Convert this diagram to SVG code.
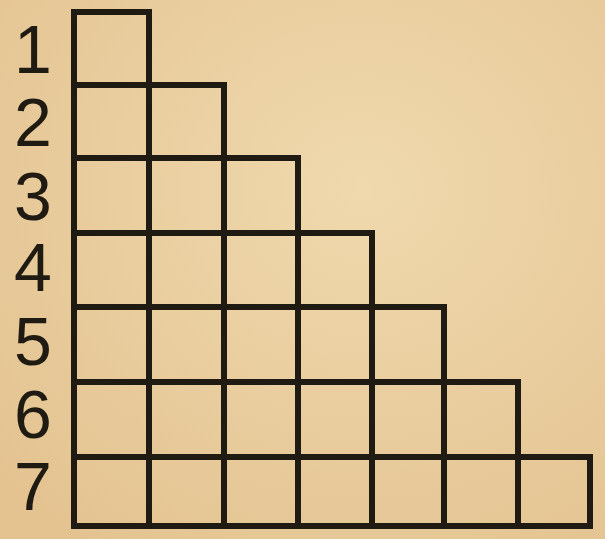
<svg xmlns="http://www.w3.org/2000/svg" width="605" height="539" viewBox="0 0 605 539">
<style>
.g{fill:none;stroke:#1f1a12;stroke-width:6;stroke-linejoin:miter;stroke-linecap:square}
.n{font-family:"Liberation Sans",Arial,sans-serif;font-size:68px;fill:#1f1a12;text-anchor:middle}
</style>
<defs>
<radialGradient id="bg" cx="0.6" cy="0.35" r="0.8">
<stop offset="0" stop-color="#efd9ad"/>
<stop offset="1" stop-color="#e4c391"/>
</radialGradient>
</defs>
<rect width="605" height="539" fill="url(#bg)"/>
<g id="labels">
<text class="n" x="33" y="73">1</text>
<text class="n" x="33" y="146">2</text>
<text class="n" x="33" y="220">3</text>
<text class="n" x="33" y="291">4</text>
<text class="n" x="33" y="365">5</text>
<text class="n" x="33" y="438">6</text>
<text class="n" x="33" y="510">7</text>
</g>
<g id="grid" class="g">
<path d="M74,526 V12 H149 V526"/>
<path d="M74,85 H224 V526"/>
<path d="M74,158 H298 V526"/>
<path d="M74,233 H372 V526"/>
<path d="M74,307 H444 V526"/>
<path d="M74,382 H518 V526"/>
<path d="M74,457 H590 V526 H74"/>
</g>
</svg>
